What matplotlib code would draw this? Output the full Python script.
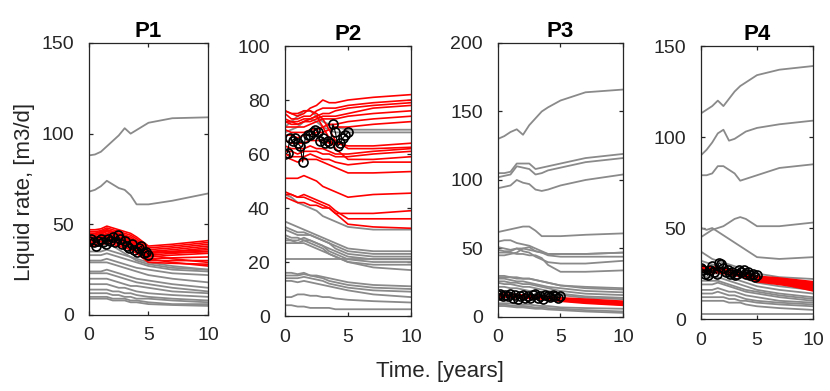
import matplotlib
matplotlib.use("Agg")
import matplotlib.pyplot as plt

plt.rcParams["font.family"] = ["Liberation Sans", "DejaVu Sans"]

# common time grid of the simulated curves (years)
t_grid = [0, 0.5, 1, 1.5, 2, 2.5, 3, 3.5, 4, 5, 7, 10]
t_obs = [0.0, 0.2, 0.4, 0.6, 0.8, 1.0, 1.2, 1.4, 1.6, 1.8, 2.0, 2.2, 2.4,
         2.6, 2.8, 3.0, 3.2, 3.4, 3.6, 3.8, 4.0, 4.2, 4.4, 4.6, 4.8, 5.0]

# ---------------- P1 ----------------
p1_gray = [
    [88, 88.5, 90, 93, 96, 99, 103, 100, 102, 106, 108.5, 109],
    [68, 69, 71, 74, 72, 70, 69, 66, 61, 61, 63, 67],
    [38, 38, 38, 39, 38, 36, 34, 32, 30, 28, 26, 25],
    [35, 35, 35, 36, 35, 34, 33, 32, 31, 29, 27, 25],
    [33, 33, 33, 34, 33, 32, 31, 30, 29, 27, 25, 24],
    [30, 30, 30, 31, 30, 29, 28, 27, 26, 25, 23, 22],
    [29, 29, 29, 29, 28, 27, 26, 25, 24, 22, 20, 18],
    [24, 24, 24, 25, 24, 23, 22, 21, 20, 19, 17, 15],
    [23, 23, 23, 23, 22, 21, 20, 19, 18, 17, 15, 13],
    [20, 20, 20, 20, 19, 18, 17, 16, 16, 15, 13, 12],
    [17, 17, 17, 17, 16, 15, 15, 14, 13, 12, 11, 10],
    [14, 14, 14, 14, 13, 13, 12, 12, 11, 10, 9, 8],
    [12, 12, 12, 12, 11, 11, 10, 10, 9, 9, 8, 7],
    [10, 10, 10, 10, 9, 9, 9, 8, 8, 7, 6, 6],
    [9, 9, 9, 9, 8, 8, 8, 7, 7, 6, 5.5, 5],
]
p1_red = [
    [47, 47, 47.5, 49, 48, 47, 46, 45, 43, 38, 39, 41],
    [46, 46, 46.5, 48, 47, 46, 45, 44, 42, 37, 38, 40],
    [45, 45, 45.5, 47, 46, 45, 44, 43, 41, 36, 37, 39],
    [44, 44, 44.5, 46, 45, 44, 43, 42, 40, 35, 36, 38],
    [43, 43, 43.5, 45, 44, 43, 42, 41, 39, 34, 35, 36],
    [42, 42, 42.5, 44, 43, 42, 41, 40, 38, 33, 34, 35],
    [41, 41, 41.5, 43, 42, 41, 40, 39, 37, 32, 33, 34],
    [40, 40, 40.5, 42, 41, 40, 39, 38, 36, 31, 31.5, 32],
    [39, 39, 39.5, 41, 40, 39, 38, 37, 35, 30, 30, 30],
    [38, 38, 38.5, 40, 39, 38, 37, 36, 34, 29, 28.5, 28],
    [44, 44, 45, 46.5, 45, 44.5, 43, 41, 39, 33, 31, 29],
    [42, 42, 43, 45, 44, 43, 42, 40, 38, 31, 29, 27],
    [45, 45, 46, 47, 46, 45, 44, 42, 40, 35, 34.5, 35],
    [41, 41, 42, 43.5, 42.5, 42, 41, 39, 37, 34, 35, 37],
]
p1_obs = [41, 42, 40, 38, 41, 42, 40, 39, 42, 41, 43, 40, 44, 42, 39, 41,
          38, 37, 39, 36, 35, 37, 38, 34, 35, 33]

# ---------------- P2 ----------------
p2_gray = [
    [70, 72, 74, 76, 76, 74, 72, 71, 70, 69, 69, 69],
    [68, 69, 70, 72, 73, 72, 70, 69, 68, 68, 68, 68],
    [45, 44, 42, 41, 40, 39, 37, 36, 35, 33, 32, 32],
    [35, 34, 33, 32, 31, 30, 29, 28, 27, 25, 24, 24],
    [33, 32, 31, 31, 30, 29, 28, 27, 26, 24, 23, 23],
    [32, 31, 30, 30, 30, 29, 28, 27, 25, 23, 22, 22],
    [30, 29, 29, 28, 28, 27, 26, 25, 24, 22, 21, 21],
    [29, 28, 28, 29, 28, 27, 26, 24, 23, 21, 20, 20],
    [28, 28, 27, 28, 27, 26, 25, 23, 22, 20, 19, 19],
    [27, 27, 27, 27, 26, 25, 24, 23, 22, 20, 18, 17],
    [21, 21, 21, 21, 21, 21, 21, 21, 21, 21, 21, 21],
    [16, 16, 15.5, 16, 15, 15, 14.5, 14, 13.5, 12.5, 11.5, 11],
    [15, 15, 15, 15.5, 15, 14.5, 14, 13, 12.5, 11.5, 10.5, 10],
    [14, 14, 14, 14.5, 14, 13.5, 13, 12, 11.5, 10.5, 9.5, 9],
    [13, 13, 12.5, 13, 12.5, 12, 11.5, 11, 10.5, 9.5, 8, 7],
    [7, 7, 8, 8, 7.5, 7.5, 7, 7, 6.5, 6, 5.5, 5],
    [4, 4, 3.5, 3.5, 3, 3, 3, 3, 2.5, 2.5, 2.5, 2.5],
]
p2_red = [
    [76, 75, 74, 75, 77, 78, 80, 79, 79, 80, 81, 82],
    [75, 73, 73, 74, 74, 76, 77, 77, 77, 78, 79, 80],
    [73, 72, 72, 73, 73, 74, 75, 75, 76, 77, 78, 79],
    [72, 71, 71, 72, 72, 73, 74, 74, 74, 75, 77, 78],
    [70, 70, 70, 70, 71, 72, 73, 73, 73, 74, 75, 76],
    [69, 68, 68, 68, 69, 69, 70, 71, 71, 72, 73, 74],
    [67, 67, 66, 67, 67, 68, 68, 69, 70, 70, 71, 72],
    [65, 64, 64, 64, 65, 65, 65, 64, 64, 63, 63, 64],
    [63, 62, 62, 62, 63, 62, 62, 61, 60, 60, 61, 62],
    [61, 61, 60, 61, 61, 61, 60, 60, 59, 59, 60, 61],
    [60, 59, 59, 59, 60, 59, 58, 58, 57, 56, 57, 57],
    [59, 58, 57, 58, 58, 58, 57, 56, 55, 53, 53, 53.5],
    [72, 72, 71, 72, 73, 74, 70, 66, 62, 58, 58, 59],
    [76, 75, 75, 76, 76, 75, 73, 69, 65, 62, 62, 62.5],
    [51, 51, 51, 52, 51, 50, 48, 47, 46, 44, 45, 45.5],
    [46, 45, 44, 45, 44, 43, 42, 41, 39, 36, 36, 36],
    [45, 45, 44, 44, 43, 42, 41, 40, 38, 34, 33, 32.5],
    [44, 43, 42, 42, 41, 41, 40, 40, 38, 38, 38, 39],
]
p2_obs = [60, 60.5, 66, 65, 66, 64, 63, 57, 66, 67, 67, 68, 69, 68, 65, 66,
          64, 65, 64, 71, 68, 63, 64, 66, 67, 68]

# ---------------- P3 ----------------
p3_gray = [
    [130, 132, 135, 137, 133, 140, 145, 150, 153, 158, 164, 166],
    [105, 105, 106, 112, 112, 112, 108, 109, 110, 112, 116, 119],
    [102, 103, 104, 110, 109, 108, 104, 105, 107, 109, 113, 116],
    [94, 95, 96, 100, 98, 97, 93, 92, 93, 96, 100, 104],
    [62, 63, 64, 65, 66, 66, 63, 59, 59, 59, 60, 61],
    [55, 56, 56, 54, 53, 52, 50, 48, 46, 46, 46, 47],
    [51, 50, 49, 50, 50, 49, 48, 47, 45, 44, 44, 44],
    [49, 48, 48, 50, 48, 47, 44, 42, 40, 39, 39, 41],
    [47, 47, 47, 46, 46, 45, 45, 43, 38, 33, 33, 34],
    [45, 45, 46, 47, 50, 51, 48, 47, 46, 46, 46, 47],
    [30, 30, 29, 29, 28, 28, 27, 26, 25, 23, 22, 21],
    [29, 29, 29, 28, 28, 28, 27, 26, 25, 23, 21, 20],
    [28, 28, 27, 26, 26, 25, 24, 23, 22, 21, 19, 18],
    [26, 26, 25, 25, 24, 24, 23, 22, 21, 19, 17, 16],
    [25, 24, 24, 23, 22, 22, 21, 20, 19, 17, 15, 14],
    [22, 22, 21, 21, 20, 19, 19, 18, 17, 16, 14, 13],
    [10, 10, 10, 9.5, 9, 9, 8.5, 8, 8, 7, 6.5, 6],
    [9, 9, 8.5, 8, 8, 7.5, 7, 7, 6.5, 6, 5, 4],
    [8, 8, 7.5, 7, 7, 6.5, 6, 6, 5.5, 5, 4, 3],
]
p3_red = [
    [16, 16, 15.5, 15.5, 15, 15, 14.5, 14.5, 14, 13, 12, 10.5],
    [15.5, 15.5, 15, 15, 14.5, 14.5, 14, 14, 13.5, 12.5, 11, 9.5],
    [15, 15, 15, 14.5, 14.5, 14, 14, 13.5, 13, 12, 10.5, 9],
    [16.5, 16, 16, 16, 15.5, 15.5, 15, 15, 14.5, 13.5, 12.5, 11],
]
p3_obs = [16, 16.5, 15, 16, 15.5, 17, 14, 16, 13, 15, 16, 14, 15, 13.5, 16,
          17, 14, 15, 13, 16, 15, 14.5, 16, 15, 14, 15]

# ---------------- P4 ----------------
p4_gray = [
    [113, 115, 117, 120, 117, 121, 125, 128, 130, 134, 137, 139],
    [90, 93, 97, 102, 104, 98, 99, 101, 103, 105, 107, 109],
    [79, 79, 80, 84, 84, 82, 80, 76, 77, 79, 83, 85],
    [45, 47, 49, 50, 51, 53, 55, 56, 55, 51, 51, 53],
    [50, 49, 50, 48, 46, 44, 42, 40, 38, 34, 33, 34],
    [37, 35, 33, 32, 31, 30, 29, 28, 27, 25, 23, 22],
    [32, 31, 30, 29, 28, 27, 26, 25, 24, 22, 20, 18],
    [29, 28, 27, 27, 26, 25, 24, 23, 22, 20, 18, 16],
    [26, 25, 25, 25, 24, 23, 22, 21, 20, 18, 16, 14],
    [24, 23, 23, 23, 22, 21, 20, 19, 18, 16, 14, 12],
    [21, 21, 21, 21, 20, 19, 18, 17, 16, 15, 13, 11],
    [19, 19, 19, 20, 19, 18, 17, 16, 15, 14, 12, 10],
    [16, 16, 16, 17, 16, 15, 15, 14, 13, 12, 10, 9],
    [14, 14, 14, 15, 14, 13, 13, 12, 11, 10, 9, 8],
    [12, 12, 12, 12, 12, 11, 11, 10, 10, 9, 8, 7],
    [10, 10, 10, 10, 10, 9, 9, 9, 8, 7, 6, 5],
    [3, 3, 3, 3, 3, 3, 3, 3, 3, 3, 3, 3],
]
p4_red = [
    [29, 28, 28, 28, 27, 27, 26, 25, 25, 23, 22, 20],
    [28, 27, 27, 27, 26, 26, 25, 24, 24, 22, 20.5, 18.5],
    [27, 26.5, 26, 26, 25.5, 25, 24.5, 24, 23, 21, 19.5, 17],
    [28.5, 27.5, 27, 27.5, 26.5, 26, 25.5, 25, 24, 22.5, 21, 19],
    [27.5, 27, 26.5, 26.5, 26, 25.5, 25, 24.5, 23.5, 21.5, 20, 16],
]
p4_obs = [28, 27, 25, 24, 27, 29, 26, 25, 31, 30, 28, 26, 27, 25, 26, 24,
          25, 27, 26, 27, 25, 26, 24, 25, 23, 24]

panels = [
    ("P1", p1_gray, p1_red, p1_obs, [0, 50, 100, 150], 1.2),
    ("P2", p2_gray, p2_red, p2_obs, [0, 20, 40, 60, 80, 100], 1.2),
    ("P3", p3_gray, p3_red, p3_obs, [0, 50, 100, 150, 200], 2.2),
    ("P4", p4_gray, p4_red, p4_obs, [0, 50, 100, 150], 2.6),
]
# axes boxes in figure fraction [left, bottom, width, height]
boxes = [
    [0.1072, 0.1944, 0.1434, 0.6957],
    [0.3434, 0.1918, 0.1518, 0.6905],
    [0.6000, 0.1893, 0.1506, 0.7008],
    [0.8446, 0.1841, 0.1349, 0.6982],
]

fig = plt.figure(figsize=(8.3, 3.91), dpi=100)
dark = "#262626"
gray = "#8a8a8a"

for (name, g_curves, r_curves, obs, yticks, red_lw), box in zip(panels, boxes):
    ax = fig.add_axes(box)
    for c in g_curves:
        ax.plot(t_grid, c, color=gray, lw=1.3)
    for c in r_curves:
        ax.plot(t_grid, c, color="red", lw=red_lw)
    ax.plot(t_obs, obs, "o-", color="black", lw=0.8, ms=6.5,
            mfc="none", mew=1.2)
    ax.set_xlim(0, 10)
    ax.set_ylim(yticks[0], yticks[-1])
    ax.set_xticks([0, 5, 10])
    ax.set_yticks(yticks)
    ax.tick_params(direction="in", length=3, width=0.9, top=True, right=True,
                   labelsize=14, colors=dark)
    ax.tick_params(axis="y", pad=11)
    ax.tick_params(axis="x", pad=9)
    for s in ax.spines.values():
        s.set_color(dark)
        s.set_linewidth(0.9)
    ax.set_title(name, fontsize=16, fontweight="bold", pad=4)

fig.text(0.03, 0.509, "Liquid rate, [m3/d]", rotation=90, ha="center",
         va="center", fontsize=16, color=dark)
fig.text(0.53, 0.049, "Time. [years]", ha="center", va="center",
         fontsize=16, color=dark)

fig.savefig("out.png", dpi=100)
